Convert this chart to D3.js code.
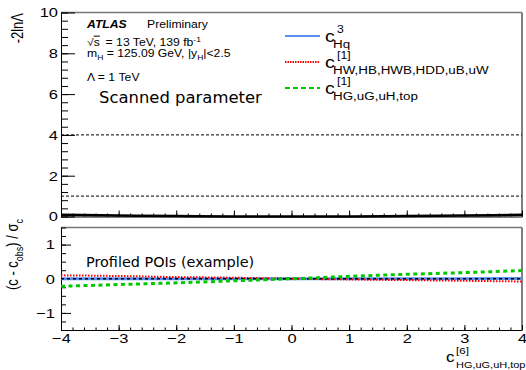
<!DOCTYPE html>
<html>
<head>
<meta charset="utf-8">
<script src="https://cdn.jsdelivr.net/npm/d3@7"></script>
<style>
  body { margin: 0; background: #fff; }
  svg { display: block; }
  text { font-family: "Liberation Sans", Arial, sans-serif; fill: #000; }
  text.dv { font-family: "DejaVu Sans", sans-serif; }
</style>
</head>
<body>
<svg id="chart" width="526" height="370"></svg>
<script>
// scan points of the parameter c_HG,uG,uH,top [6]
var scanX = [-4, -3, -2, -1, 0, 1, 2, 3, 4];
// -2lnL of the scan
var nll = [0.09, 0.05, 0.02, 0.005, 0, 0.005, 0.02, 0.05, 0.08];
// pulls of the profiled POIs
var pullHq3 = [0, 0, 0, 0, 0, 0, 0, 0, 0.01];
var pullHW = [0.10, 0.08, 0.05, 0.03, 0, -0.02, -0.04, -0.06, -0.08];
var pullHG = [-0.22, -0.17, -0.12, -0.06, 0, 0.07, 0.13, 0.18, 0.24];
// reference lines on -2lnL
var refLevels = [1, 4];
var botTicks = [-1, 0, 1];

var SX = 1.22; // text in the reference is horizontally stretched

var svg = d3.select('#chart');

var x = d3.scaleLinear().domain([-4, 4]).range([61, 522]);
var yTop = d3.scaleLinear().domain([0, 10]).range([216.5, 12.5]);
var yBot = d3.scaleLinear().domain([-1.5, 1.5]).range([330, 227.5]);

function stretch(sel) {
  sel.selectAll('text')
    .attr('transform', 'scale(' + SX + ',1)')
    .style('font-size', '13.5px');
}

// ---- top panel ----
var topPanel = svg.append('g');

topPanel.append('line')
  .attr('x1', x(4)).attr('x2', x(4))
  .attr('y1', yTop(10)).attr('y2', yTop(0))
  .attr('stroke', '#000');
topPanel.append('line')
  .attr('x1', x(-4)).attr('x2', x(4))
  .attr('y1', yTop(10)).attr('y2', yTop(10))
  .attr('stroke', '#777').attr('stroke-width', 1.5);

// y axis, major + minor
topPanel.append('g')
  .attr('transform', 'translate(' + x(-4) + ',0)')
  .call(d3.axisLeft(yTop).tickValues(d3.range(0, 10.01, 0.4)).tickSize(-7).tickFormat(''))
  .call(function(g){ g.select('.domain').remove(); });
var yAxisTop = topPanel.append('g')
  .attr('transform', 'translate(' + x(-4) + ',0)')
  .call(d3.axisLeft(yTop).ticks(5).tickSize(-14).tickSizeOuter(0).tickPadding(2.5));
stretch(yAxisTop);

// x axis (no labels)
topPanel.append('g')
  .attr('transform', 'translate(0,' + yTop(0) + ')')
  .call(d3.axisBottom(x).tickValues(d3.range(-4, 4.01, 0.2)).tickSize(-3).tickFormat(''))
  .call(function(g){ g.select('.domain').remove(); });
topPanel.append('g')
  .attr('transform', 'translate(0,' + yTop(0) + ')')
  .call(d3.axisBottom(x).ticks(8).tickSize(-6).tickSizeOuter(0).tickFormat(''));

topPanel.selectAll('.ref')
  .data(refLevels)
  .enter().append('line')
  .attr('x1', x(-4)).attr('x2', x(4))
  .attr('y1', function(d){ return yTop(d); })
  .attr('y2', function(d){ return yTop(d); })
  .attr('stroke', '#000').attr('stroke-width', 1)
  .attr('stroke-dasharray', '3,2');

var lineTop = d3.line()
  .x(function(d, i){ return x(scanX[i]); })
  .y(function(d){ return yTop(d); })
  .curve(d3.curveMonotoneX);

topPanel.append('path')
  .datum(nll)
  .attr('d', lineTop)
  .attr('fill', 'none')
  .attr('stroke', '#000')
  .attr('stroke-width', 2.5);

// y title
topPanel.append('text')
  .attr('transform', 'translate(23,13) rotate(-90) scale(1,1.2)')
  .attr('text-anchor', 'end')
  .style('font-size', '13px')
  .text('-2ln\u039B');

// ATLAS label
var atlas = topPanel.append('g');
function stxt(px, py, size) {
  return atlas.append('text')
    .attr('transform', 'translate(' + px + ',' + py + ') scale(' + SX + ',1)')
    .style('font-size', size + 'px');
}
stxt(87, 28, 10).style('font-weight', 'bold').style('font-style', 'italic').text('ATLAS');
stxt(147, 28, 10).text('Preliminary');
var l2 = stxt(87, 45.5, 10);
l2.append('tspan').text('\u221A');
l2.append('tspan').style('text-decoration', 'overline').text('s');
l2.append('tspan').attr('dx', 2).text(' = 13 TeV, 139 fb');
l2.append('tspan').style('font-size', '7px').attr('dy', -4).text('-1');
var l3 = stxt(87, 57, 10);
l3.append('tspan').text('m');
l3.append('tspan').style('font-size', '7px').attr('dy', 3).text('H');
l3.append('tspan').attr('dy', -3).text(' = 125.09 GeV, |y');
l3.append('tspan').style('font-size', '7px').attr('dy', 3).text('H');
l3.append('tspan').attr('dy', -3).text('|<2.5');
stxt(87, 81, 10).text('\u039B = 1 TeV');

topPanel.append('text')
  .attr('class', 'dv')
  .attr('transform', 'translate(99,103) scale(1.06,1)')
  .style('font-size', '15.5px')
  .text('Scanned parameter');

// ---- bottom panel ----
var bot = svg.append('g');

bot.append('line')
  .attr('x1', x(4)).attr('x2', x(4))
  .attr('y1', yBot(1.5)).attr('y2', yBot(-1.5))
  .attr('stroke', '#000');
bot.append('line')
  .attr('x1', x(-4)).attr('x2', x(4))
  .attr('y1', yBot(1.5)).attr('y2', yBot(1.5))
  .attr('stroke', '#777').attr('stroke-width', 1.5);

bot.append('g')
  .attr('transform', 'translate(' + x(-4) + ',0)')
  .call(d3.axisLeft(yBot).tickValues(d3.range(-1.5, 1.51, 0.25)).tickSize(-5).tickFormat(''))
  .call(function(g){ g.select('.domain').remove(); });
var yAxisBot = bot.append('g')
  .attr('transform', 'translate(' + x(-4) + ',0)')
  .call(d3.axisLeft(yBot).tickValues(botTicks).tickFormat(d3.format('d'))
    .tickSize(-10).tickSizeOuter(0).tickPadding(5));
stretch(yAxisBot);

bot.append('g')
  .attr('transform', 'translate(0,' + yBot(-1.5) + ')')
  .call(d3.axisBottom(x).tickValues(d3.range(-4, 4.01, 0.2)).tickSize(-2.5).tickFormat(''))
  .call(function(g){ g.select('.domain').remove(); });
var xAxisBot = bot.append('g')
  .attr('transform', 'translate(0,' + yBot(-1.5) + ')')
  .call(d3.axisBottom(x).ticks(8).tickSize(-5).tickSizeOuter(0).tickPadding(3));
stretch(xAxisBot);

svg.selectAll('.tick line').attr('stroke', '#000');
svg.selectAll('.domain').attr('stroke', '#000');

var lineBot = d3.line()
  .x(function(d, i){ return x(scanX[i]); })
  .y(function(d){ return yBot(d); })
  .curve(d3.curveMonotoneX);

var series = [
  { values: pullHq3, color: '#5a8ef0', width: 3, dash: null },
  { values: pullHW, color: '#ff0000', width: 2, dash: '1.5,1.5' },
  { values: scanX.map(function(){ return 0; }), color: '#000', width: 1.3, dash: '3,3' },
  { values: pullHG, color: '#00c800', width: 3, dash: '4,3.5' }
];

bot.selectAll('.pull')
  .data(series)
  .enter().append('path')
  .attr('class', 'pull')
  .attr('d', function(d){ return lineBot(d.values); })
  .attr('fill', 'none')
  .attr('stroke', function(d){ return d.color; })
  .attr('stroke-width', function(d){ return d.width; })
  .attr('stroke-dasharray', function(d){ return d.dash; });

bot.append('text')
  .attr('class', 'dv')
  .attr('transform', 'translate(86,266.5) scale(1.03,1)')
  .style('font-size', '14px')
  .text('Profiled POIs (example)');

// y title
var yt = bot.append('text')
  .attr('transform', 'translate(18,219) rotate(-90) scale(1,1.2)')
  .attr('text-anchor', 'end')
  .style('font-size', '13px');
yt.append('tspan').text('(c - c');
yt.append('tspan').style('font-size', '9px').attr('dy', 4).text('obs');
yt.append('tspan').attr('dy', -4).text(') / \u03C3');
yt.append('tspan').style('font-size', '9px').attr('dy', 4).text('c');

// x title
var xt = bot.append('g');
function ttxt(px, py, size, s) {
  return xt.append('text')
    .attr('transform', 'translate(' + px + ',' + py + ') scale(' + SX + ',1)')
    .style('font-size', size + 'px')
    .text(s);
}
ttxt(446, 362, 14, 'c');
ttxt(456, 354, 9.5, '[6]');
ttxt(456, 368, 9, 'HG,uG,uH,top');

// ---- legend ----
var legend = [
  { color: '#5a8ef0', width: 2, dash: null, sup: '3', sub: 'Hq' },
  { color: '#ff0000', width: 2, dash: '1.5,1', sup: '[1]', sub: 'HW,HB,HWB,HDD,uB,uW' },
  { color: '#00c800', width: 2, dash: '5,3', sup: '[1]', sub: 'HG,uG,uH,top' }
];
var leg = svg.append('g');
legend.forEach(function(d, i){
  var ly = 36 + i * 26;
  leg.append('line')
    .attr('x1', 285).attr('x2', 320)
    .attr('y1', ly).attr('y2', ly)
    .attr('stroke', d.color).attr('stroke-width', d.width)
    .attr('stroke-dasharray', d.dash);
  leg.append('text')
    .attr('transform', 'translate(325,' + (ly + 6) + ') scale(' + SX + ',1)')
    .style('font-size', '16px').text('c');
  leg.append('text')
    .attr('transform', 'translate(337,' + (ly - 3) + ') scale(' + SX + ',1)')
    .style('font-size', '10px').text(d.sup);
  leg.append('text')
    .attr('transform', 'translate(333,' + (ly + 12) + ') scale(' + SX + ',1)')
    .style('font-size', '11px').text(d.sub);
});
</script>
</body>
</html>
